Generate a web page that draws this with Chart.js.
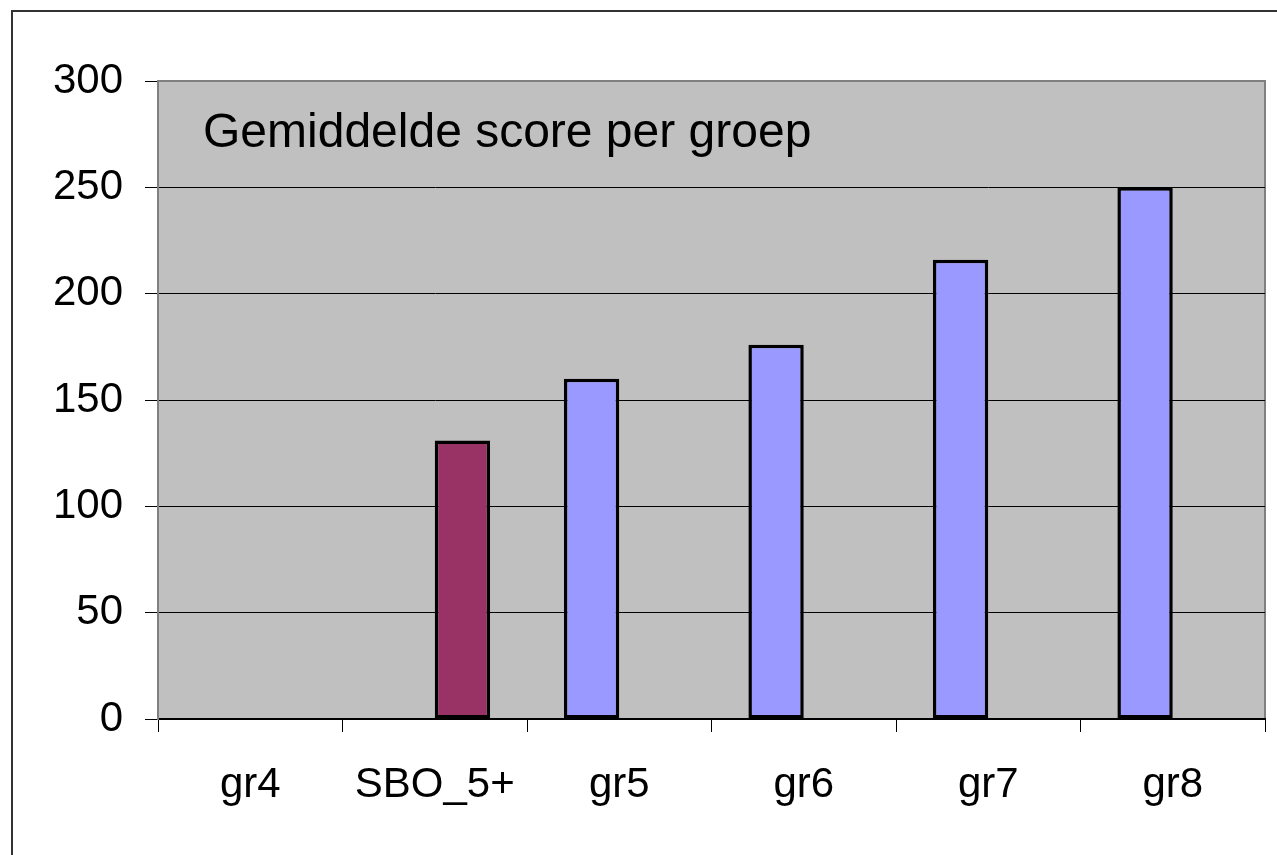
<!DOCTYPE html>
<html>
<head>
<meta charset="utf-8">
<script src="https://cdn.jsdelivr.net/npm/chart.js@4/dist/chart.umd.min.js"></script>
<style>
  html, body { margin: 0; padding: 0; background: #fff; }
  canvas { display: block; }
</style>
</head>
<body>
<canvas id="barChart" width="1277" height="855"></canvas>
<script>
const categories = ["gr4", "SBO_5+", "gr5", "gr6", "gr7", "gr8"];
const groepScores = [null, null, 160, 176, 216, 250];
const sboScores = [null, 131, null, null, null, null];
const yTicks = [0, 50, 100, 150, 200, 250, 300];
const chartTitle = "Gemiddelde score per groep";

const FONT = "'Liberation Sans', Arial, sans-serif";

// gray plot area, outer frame and the title inside the plot
const plotBackground = {
  id: "plotBackground",
  beforeDraw(chart) {
    const { ctx, chartArea: a } = chart;
    ctx.save();
    ctx.strokeStyle = "#333";
    ctx.lineWidth = 2;
    ctx.strokeRect(12, 11, chart.width + 20, chart.height + 20);
    ctx.fillStyle = "#c0c0c0";
    ctx.fillRect(a.left, a.top, a.right - a.left, a.bottom - a.top);
    ctx.strokeStyle = "#808080";
    ctx.lineWidth = 2;
    ctx.strokeRect(a.left, a.top, a.right - a.left, a.bottom - a.top);
    ctx.restore();
  },
  afterDatasetsDraw(chart) {
    const { ctx, chartArea: a } = chart;
    ctx.save();
    ctx.fillStyle = "#000";
    ctx.font = "48px " + FONT;
    ctx.textBaseline = "alphabetic";
    ctx.fillText(chartTitle, a.left + 45, a.top + 66);
    ctx.restore();
  },
};

new Chart(document.getElementById("barChart").getContext("2d"), {
  type: "bar",
  data: {
    labels: categories,
    datasets: [
      {
        label: "groep",
        data: groepScores,
        backgroundColor: "#9999ff",
        borderColor: "#000",
        borderWidth: 3.5,
        borderSkipped: false,
      },
      {
        label: "SBO",
        data: sboScores,
        backgroundColor: "#993366",
        borderColor: "#000",
        borderWidth: 3.5,
        borderSkipped: false,
      },
    ],
  },
  options: {
    responsive: false,
    animation: false,
    categoryPercentage: 0.6,
    barPercentage: 1,
    layout: { padding: { top: 81, right: 12, bottom: 0, left: 0 } },
    plugins: {
      legend: { display: false },
      tooltip: { enabled: false },
    },
    scales: {
      x: {
        afterFit: (scale) => { scale.height = 136; },
        grid: {
          offset: true,
          drawOnChartArea: false,
          color: "#000",
          tickColor: "#000",
          lineWidth: 1,
          tickLength: 13,
        },
        border: { color: "#000", width: 2 },
        ticks: {
          color: "#000",
          padding: 28,
          maxRotation: 0,
          font: { family: FONT, size: 42 },
        },
      },
      y: {
        min: 0,
        max: 300,
        afterFit: (scale) => { scale.width = 158; },
        afterBuildTicks: (scale) => {
          scale.ticks = yTicks.map((v) => ({ value: v }));
        },
        grid: {
          color: (c) => (c.tick && c.tick.value === 300 ? "#808080" : "#000"),
          tickColor: "#000",
          lineWidth: 1,
          tickLength: 13,
        },
        border: { color: "#808080", width: 2 },
        ticks: {
          color: "#000",
          padding: 22,
          font: { family: FONT, size: 42 },
        },
      },
    },
  },
  plugins: [plotBackground],
});
</script>
</body>
</html>
